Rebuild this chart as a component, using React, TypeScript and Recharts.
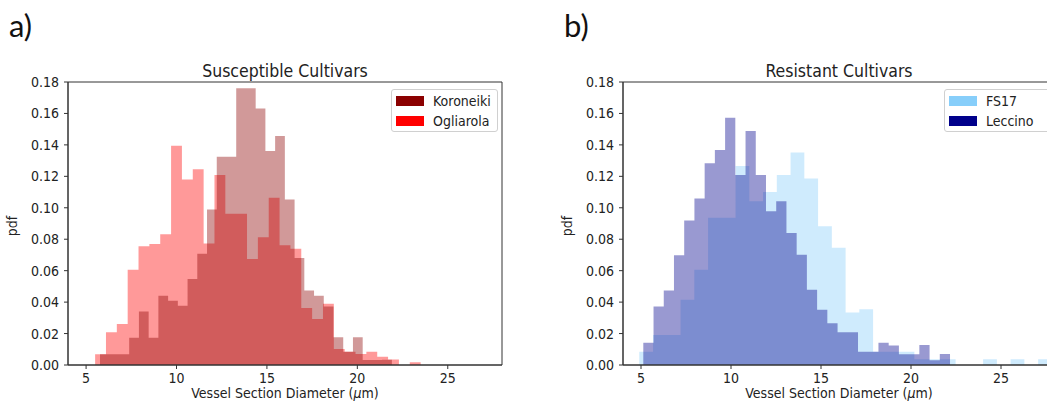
import { ComposedChart, Area, XAxis, YAxis, ReferenceArea } from "recharts";

// pdf per bin (30 bins each)
const koroneiki = [
  0.0068, 0.0068, 0.0068, 0.0174, 0.034, 0.0174, 0.044, 0.0408, 0.0377, 0.0547,
  0.0708, 0.0989, 0.1325, 0.1325, 0.1761, 0.1761, 0.1632, 0.1361, 0.1457, 0.1053,
  0.0681, 0.0474, 0.044, 0.0372, 0.0177, 0.0085, 0.0177, 0.0032, 0.0032, 0.0034,
];
const ogliarola = [
  0.0068, 0.0209, 0.026, 0.0606, 0.0755, 0.077, 0.0832, 0.1395, 0.118, 0.1245,
  0.0772, 0.1208, 0.0962, 0.0962, 0.0674, 0.0812, 0.1064, 0.0761, 0.074, 0.0362,
  0.0292, 0.0389, 0.0102, 0.0085, 0.007, 0.0085, 0.0053, 0.0035, 0, 0.0018,
];
const fs17 = [
  0.0085, 0.0191, 0.0191, 0.0415, 0.0606, 0.0936, 0.0936, 0.1266, 0.1042, 0.11,
  0.1208, 0.1351, 0.1187, 0.0883, 0.0745, 0.0334, 0.0355, 0.0085, 0.0085, 0.0085,
  0.0036, 0.0036, 0.0036, 0, 0, 0.0036, 0, 0.0036, 0, 0.0036,
];
const leccino = [
  0.0142, 0.0372, 0.0474, 0.0698, 0.0919, 0.1059, 0.1283, 0.1368, 0.1572, 0.1208,
  0.1489, 0.1208, 0.0978, 0.1042, 0.084, 0.0702, 0.0479, 0.0351, 0.0266, 0.0209,
  0.0209, 0.0085, 0.0085, 0.0142, 0.0124, 0.0068, 0.0068, 0.0128, 0.003, 0.007,
];

// histogram bin layout (first edge, bin width) in µm
const koroneikiBins = [5.77, 0.538];
const ogliarolaBins = [5.5, 0.6];
const fs17Bins = [4.906, 0.764];
const leccinoBins = [5.128, 0.568];

const xTicks = [5, 10, 15, 20, 25];
const yTicks = [0, 0.02, 0.04, 0.06, 0.08, 0.1, 0.12, 0.14, 0.16, 0.18];

const FONT = "'DejaVu Sans Condensed', 'DejaVu Sans', sans-serif";

type Row = { x: number; [k: string]: number };

function stepRows(key: string, bins: number[], values: number[]): Row[] {
  const [start, width] = bins;
  const rows: Row[] = values.map((v, i) => ({ x: start + i * width, [key]: v }));
  rows.push({ x: start + values.length * width, [key]: 0 });
  return rows;
}

function merge(...lists: Row[][]): Row[] {
  return lists.flat().sort((a, b) => a.x - b.x);
}

interface Series {
  key: string;
  name: string;
  color: string;
}

function Panel({
  left,
  width,
  letter,
  title,
  data,
  series,
  legend,
}: {
  left: number;
  width: number;
  letter: string;
  title: string;
  data: Row[];
  series: Series[]; // drawing order (bottom first)
  legend: Series[]; // legend order
}) {
  const plotLeft = 68;
  const plotRight = width - 18;
  const cx = left + (plotLeft + plotRight) / 2;
  const legendLeft = left + plotRight - 111;
  return (
    <>
      <div style={{ position: "absolute", left: left + 9, top: 6, fontFamily: "Lato, sans-serif", fontSize: 31, color: "#111" }}>
        {letter}
      </div>
      <div
        style={{
          position: "absolute",
          left: cx - 150,
          width: 300,
          top: 61,
          textAlign: "center",
          fontFamily: FONT,
          fontSize: 17.5,
          color: "#222",
        }}
      >
        {title}
      </div>
      <div style={{ position: "absolute", left: left, top: 0 }}>
        <ComposedChart width={width} height={410} data={data} margin={{ top: 82, right: 18, left: 8, bottom: 15 }}>
          <XAxis
            dataKey="x"
            type="number"
            domain={[4, 28]}
            ticks={xTicks}
            allowDataOverflow
            height={30}
            tickSize={4}
            tickMargin={4}
            stroke="#333"
            tick={{ fontSize: 14, fill: "#222", fontFamily: FONT }}
          />
          <YAxis
            type="number"
            domain={[0, 0.18]}
            ticks={yTicks}
            allowDataOverflow
            width={60}
            tickSize={4}
            tickMargin={5}
            stroke="#333"
            tickFormatter={(v: number) => v.toFixed(2)}
            tick={{ fontSize: 14, fill: "#222", fontFamily: FONT }}
          />
          {series.map((s) => (
            <Area
              key={s.key}
              dataKey={s.key}
              type="stepAfter"
              connectNulls
              stroke="none"
              fill={s.color}
              fillOpacity={0.4}
              isAnimationActive={false}
              dot={false}
              activeDot={false}
            />
          ))}
          <ReferenceArea x1={4} x2={28} y1={0} y2={0.18} fill="none" stroke="#333" strokeWidth={1} />
        </ComposedChart>
      </div>
      <div
        style={{
          position: "absolute",
          left: left + 12,
          top: 226,
          transform: "translate(-50%, -50%) rotate(-90deg)",
          fontFamily: FONT,
          fontSize: 14,
          color: "#222",
        }}
      >
        pdf
      </div>
      <div
        style={{
          position: "absolute",
          left: cx - 150,
          width: 300,
          top: 385,
          textAlign: "center",
          fontFamily: FONT,
          fontSize: 14,
          color: "#222",
        }}
      >
        Vessel Section Diameter (<i>μ</i>m)
      </div>
      <div
        style={{
          position: "absolute",
          left: legendLeft,
          top: 89,
          width: 105,
          height: 41,
          border: "1px solid #d0d0d0",
          borderRadius: 3,
          background: "rgba(255,255,255,0.8)",
          fontFamily: FONT,
          fontSize: 14,
          color: "#222",
        }}
      >
        {legend.map((s, i) => (
          <div key={s.key} style={{ position: "absolute", left: 4, top: 5 + i * 20, height: 12, display: "flex", alignItems: "center" }}>
            <div style={{ width: 28, height: 10, background: s.color }} />
            <div style={{ marginLeft: 9, lineHeight: "12px" }}>{s.name}</div>
          </div>
        ))}
      </div>
    </>
  );
}

export default function App() {
  const leftData = merge(stepRows("ogl", ogliarolaBins, ogliarola), stepRows("kor", koroneikiBins, koroneiki));
  const rightData = merge(stepRows("fs", fs17Bins, fs17), stepRows("lec", leccinoBins, leccino));

  const kor = { key: "kor", name: "Koroneiki", color: "#8b0000" };
  const ogl = { key: "ogl", name: "Ogliarola", color: "#ff0000" };
  const fs = { key: "fs", name: "FS17", color: "#87cefa" };
  const lec = { key: "lec", name: "Leccino", color: "#00008b" };

  return (
    <div style={{ position: "absolute", left: 0, top: 0, width: 1047, height: 410, overflow: "hidden", background: "#fff" }}>
      <Panel
        left={0}
        width={520}
        letter="a)"
        title="Susceptible Cultivars"
        data={leftData}
        series={[ogl, kor]}
        legend={[kor, ogl]}
      />
      <Panel
        left={555}
        width={518}
        letter="b)"
        title="Resistant Cultivars"
        data={rightData}
        series={[fs, lec]}
        legend={[fs, lec]}
      />
    </div>
  );
}
